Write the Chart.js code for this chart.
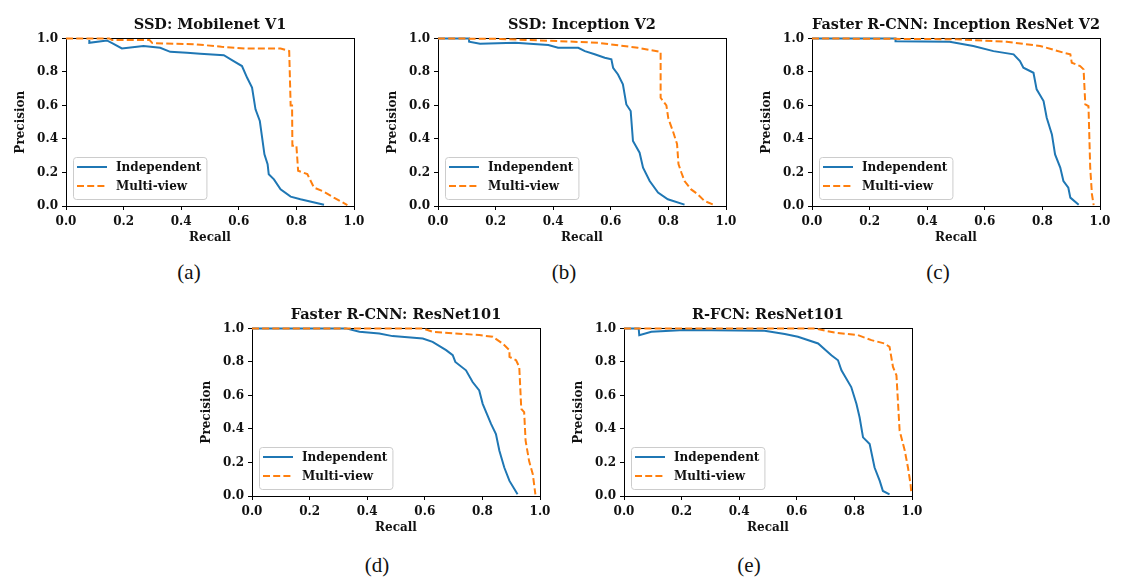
<!DOCTYPE html>
<html>
<head>
<meta charset="utf-8">
<script src="https://cdn.jsdelivr.net/npm/chart.js@4.4.1/dist/chart.umd.min.js"></script>
<style>
  html, body { margin: 0; padding: 0; background: #fff; }
  body { width: 1138px; height: 581px; position: relative; overflow: hidden; }
  canvas { position: absolute; }
  .cap { position: absolute; font-family: "Liberation Serif", serif; font-size: 21px; color: #111;
         transform: translate(-50%, -50%); }
</style>
</head>
<body>
<canvas id="ca" width="370" height="251" style="left:0px;top:0px"></canvas>
<canvas id="cb" width="370" height="251" style="left:372px;top:0px"></canvas>
<canvas id="cc" width="370" height="251" style="left:746px;top:0px"></canvas>
<canvas id="cd" width="370" height="251" style="left:186px;top:290px"></canvas>
<canvas id="ce" width="370" height="251" style="left:558px;top:290px"></canvas>
<div class="cap" style="left:189px;top:272px">(a)</div>
<div class="cap" style="left:564px;top:272px">(b)</div>
<div class="cap" style="left:938px;top:272px">(c)</div>
<div class="cap" style="left:377px;top:565px">(d)</div>
<div class="cap" style="left:749px;top:565px">(e)</div>
<script>
// tick values for both axes
const tickValues = [0, 0.2, 0.4, 0.6, 0.8, 1.0];
const seriesNames = ['Independent', 'Multi-view'];
const titles = ['SSD: Mobilenet V1', 'SSD: Inception V2', 'Faster R-CNN: Inception ResNet V2',
                'Faster R-CNN: ResNet101', 'R-FCN: ResNet101'];

// (a) SSD Mobilenet V1
const recallA_ind = [0.081, 0.081, 0.142, 0.165, 0.194, 0.269, 0.327, 0.362, 0.42, 0.466, 0.548, 0.582, 0.611, 0.629, 0.646, 0.658, 0.673, 0.681, 0.689, 0.70, 0.704, 0.722, 0.745, 0.78, 0.814, 0.896];
const precA_ind   = [0.99, 0.974, 0.988, 0.968, 0.94, 0.954, 0.944, 0.92, 0.915, 0.909, 0.90, 0.865, 0.835, 0.765, 0.706, 0.577, 0.507, 0.408, 0.308, 0.25, 0.189, 0.159, 0.099, 0.056, 0.04, 0.008];
const recallA_mv  = [0, 0.15, 0.16, 0.29, 0.30, 0.45, 0.54, 0.62, 0.745, 0.775, 0.78, 0.785, 0.786, 0.80, 0.806, 0.838, 0.861, 0.896, 0.93, 0.977];
const precA_mv    = [1.0, 1.0, 0.99, 0.99, 0.972, 0.965, 0.95, 0.94, 0.94, 0.925, 0.6, 0.6, 0.36, 0.36, 0.21, 0.19, 0.11, 0.085, 0.05, 0.005];

// (b) SSD Inception V2
const recallB_ind = [0, 0.108, 0.108, 0.146, 0.268, 0.383, 0.417, 0.487, 0.51, 0.544, 0.579, 0.602, 0.608, 0.625, 0.642, 0.654, 0.669, 0.677, 0.70, 0.712, 0.735, 0.764, 0.798, 0.856];
const precB_ind   = [1.0, 1.0, 0.98, 0.968, 0.974, 0.96, 0.944, 0.944, 0.924, 0.905, 0.885, 0.875, 0.825, 0.785, 0.726, 0.606, 0.567, 0.388, 0.318, 0.229, 0.149, 0.08, 0.04, 0.008];
const recallB_mv  = [0, 0.216, 0.418, 0.556, 0.694, 0.773, 0.773, 0.793, 0.80, 0.815, 0.83, 0.835, 0.845, 0.856, 0.879, 0.902, 0.925, 0.954];
const precB_mv    = [1.0, 0.997, 0.984, 0.974, 0.944, 0.92, 0.646, 0.6, 0.52, 0.45, 0.37, 0.25, 0.2, 0.149, 0.099, 0.07, 0.03, 0.01];

// (c) Faster R-CNN Inception ResNet V2
const recallC_ind = [0, 0.29, 0.29, 0.478, 0.56, 0.63, 0.70, 0.722, 0.734, 0.769, 0.78, 0.804, 0.815, 0.833, 0.844, 0.862, 0.873, 0.89, 0.897, 0.926];
const precC_ind   = [1.0, 1.0, 0.983, 0.98, 0.955, 0.924, 0.905, 0.865, 0.825, 0.795, 0.696, 0.626, 0.527, 0.427, 0.308, 0.229, 0.149, 0.109, 0.05, 0.008];
const recallC_mv  = [0, 0.502, 0.676, 0.792, 0.873, 0.897, 0.902, 0.931, 0.943, 0.949, 0.96, 0.966, 0.972, 0.978];
const precC_mv    = [1.0, 0.995, 0.98, 0.955, 0.915, 0.905, 0.855, 0.835, 0.815, 0.606, 0.596, 0.229, 0.07, 0.005];

// (d) Faster R-CNN ResNet101
const recallD_ind = [0, 0.326, 0.373, 0.442, 0.488, 0.593, 0.627, 0.674, 0.697, 0.706, 0.743, 0.766, 0.789, 0.801, 0.83, 0.847, 0.859, 0.876, 0.894, 0.922];
const precD_ind   = [1.0, 1.0, 0.98, 0.97, 0.954, 0.94, 0.92, 0.87, 0.84, 0.80, 0.75, 0.68, 0.63, 0.55, 0.43, 0.37, 0.27, 0.17, 0.09, 0.01];
const recallD_mv  = [0, 0.593, 0.627, 0.789, 0.836, 0.87, 0.894, 0.894, 0.917, 0.928, 0.935, 0.945, 0.95, 0.962, 0.975, 0.984];
const precD_mv    = [1.0, 1.0, 0.98, 0.96, 0.95, 0.91, 0.87, 0.83, 0.81, 0.77, 0.52, 0.5, 0.33, 0.21, 0.13, 0.01];

// (e) R-FCN ResNet101
const recallE_ind = [0, 0.051, 0.053, 0.095, 0.21, 0.488, 0.558, 0.604, 0.674, 0.72, 0.743, 0.755, 0.789, 0.807, 0.818, 0.83, 0.853, 0.87, 0.888, 0.899, 0.922];
const precE_ind   = [1.0, 1.0, 0.96, 0.98, 0.99, 0.986, 0.966, 0.95, 0.91, 0.84, 0.81, 0.75, 0.65, 0.55, 0.47, 0.35, 0.31, 0.17, 0.09, 0.03, 0.01];
const recallE_mv  = [0, 0.662, 0.731, 0.812, 0.859, 0.905, 0.922, 0.934, 0.946, 0.957, 0.975, 0.986, 0.995, 0.998];
const precE_mv    = [1.0, 1.0, 0.975, 0.96, 0.93, 0.91, 0.89, 0.77, 0.72, 0.39, 0.27, 0.17, 0.07, 0.01];

const BLUE = '#1f77b4';
const ORANGE = '#ff7f0e';
const FONT = '"DejaVu Serif", serif';

function pts(xs, ys) {
  return xs.map((x, i) => ({ x: x, y: ys[i] }));
}

// axes box under the lines, legend box (lower left) on top
const framePlugin = {
  id: 'frame',
  beforeDatasetsDraw(chart) {
    const ctx = chart.ctx, a = chart.chartArea;
    ctx.save();
    ctx.strokeStyle = '#000';
    ctx.lineWidth = 1;
    ctx.strokeRect(Math.round(a.left) + 0.5, Math.round(a.top) + 0.5,
                   Math.round(a.right - a.left), Math.round(a.bottom - a.top));
    ctx.restore();
  },
  afterDraw(chart) {
    const ctx = chart.ctx, a = chart.chartArea;
    ctx.save();
    ctx.font = 'bold 12px ' + FONT;
    const tw = Math.max(...seriesNames.map(n => ctx.measureText(n).width));
    const w = 43 + tw + 5, h = 42;
    const x0 = a.left + 7, y0 = a.bottom - 7 - h;
    ctx.beginPath();
    ctx.roundRect(x0 + 0.5, y0 + 0.5, w, h, 3);
    ctx.fillStyle = 'rgba(255,255,255,0.8)';
    ctx.fill();
    ctx.strokeStyle = '#cccccc';
    ctx.lineWidth = 1;
    ctx.stroke();

    const rows = [[BLUE, []], [ORANGE, [7, 3.2]]];
    rows.forEach((r, i) => {
      const yy = y0 + 10 + i * 19;
      ctx.beginPath();
      ctx.setLineDash(r[1]);
      ctx.strokeStyle = r[0];
      ctx.lineWidth = 2;
      ctx.moveTo(x0 + 4, yy);
      ctx.lineTo(x0 + 34, yy);
      ctx.stroke();
      ctx.setLineDash([]);
      ctx.fillStyle = '#111';
      ctx.textBaseline = 'middle';
      ctx.fillText(seriesNames[i], x0 + 43, yy + 1);
    });
    ctx.restore();
  }
};

function axis(titleText, isX) {
  return {
    type: 'linear',
    min: 0, max: 1,
    afterBuildTicks: s => { s.ticks = tickValues.map(v => ({ value: v })); },
    afterFit: s => { if (isX) s.height = 45; else s.width = 66; },
    grid: { display: true, drawOnChartArea: false, drawTicks: true, tickLength: 4, color: '#000' },
    border: { display: true, color: '#000' },
    ticks: {
      color: '#111', padding: isX ? 5 : 4, maxRotation: 0,
      font: { family: FONT, size: 12, weight: 'bold' },
      callback: v => Number(v).toFixed(1)
    },
    title: {
      display: true, text: titleText, color: '#111',
      font: { family: FONT, size: 12, weight: 'bold' },
      padding: isX ? { top: 0, bottom: 6 } : { top: 14, bottom: 0 }
    }
  };
}

function makeChart(id, title, indX, indY, mvX, mvY) {
  new Chart(document.getElementById(id), {
    type: 'line',
    data: {
      datasets: [
        { label: seriesNames[0], data: pts(indX, indY), borderColor: BLUE, borderWidth: 2,
          pointRadius: 0, tension: 0, fill: false, order: 1, clip: 3 },
        { label: seriesNames[1], data: pts(mvX, mvY), borderColor: ORANGE, borderWidth: 2,
          borderDash: [7, 3.2], pointRadius: 0, tension: 0, fill: false, order: 0, clip: 3 }
      ]
    },
    options: {
      responsive: false,
      animation: false,
      events: [],
      layout: { padding: { left: 0, right: 16, top: 0, bottom: 0 } },
      scales: { x: axis('Recall', true), y: axis('Precision', false) },
      plugins: {
        legend: { display: false },
        tooltip: { enabled: false },
        title: {
          display: true, text: title, color: '#111', fullSize: false,
          font: { family: FONT, size: 14.5, weight: 'bold', lineHeight: 1.2 },
          padding: { top: 17, bottom: 4 }
        }
      }
    },
    plugins: [framePlugin]
  });
}

makeChart('ca', titles[0], recallA_ind, precA_ind, recallA_mv, precA_mv);
makeChart('cb', titles[1], recallB_ind, precB_ind, recallB_mv, precB_mv);
makeChart('cc', titles[2], recallC_ind, precC_ind, recallC_mv, precC_mv);
makeChart('cd', titles[3], recallD_ind, precD_ind, recallD_mv, precD_mv);
makeChart('ce', titles[4], recallE_ind, precE_ind, recallE_mv, precE_mv);
</script>
</body>
</html>
